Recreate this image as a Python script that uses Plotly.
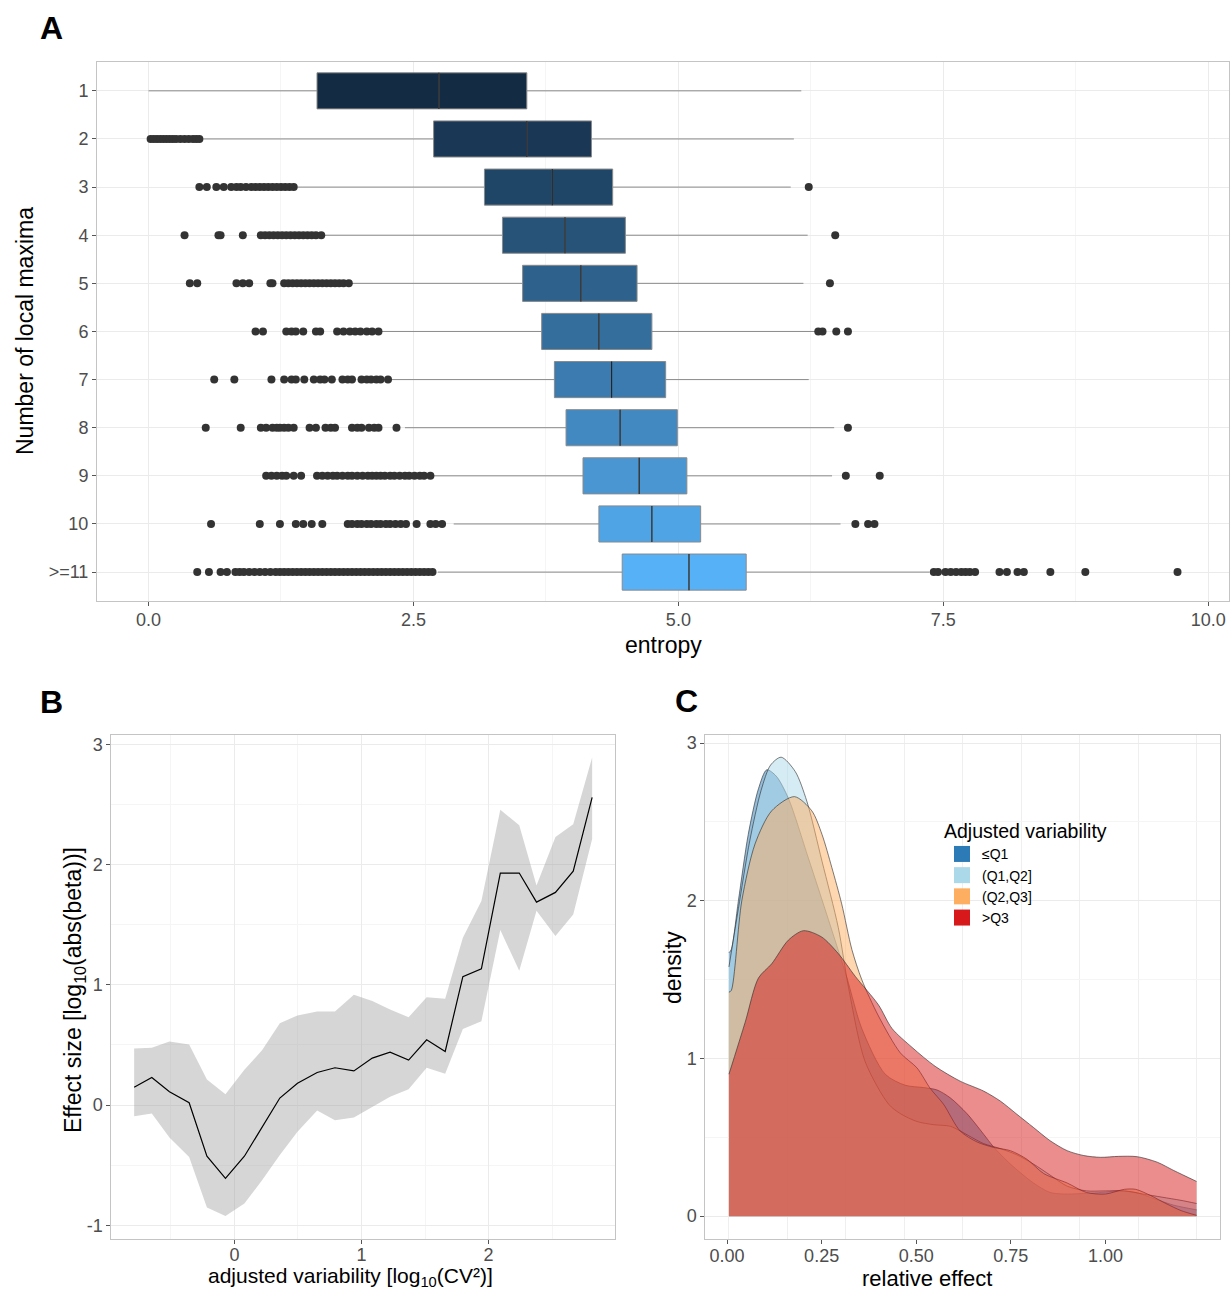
import plotly.graph_objects as go

# ---------------- Panel A: entropy by number of local maxima ----------------
maxima_labels = ["1", "2", "3", "4", "5", "6", "7", "8", "9", "10", ">=11"]
entropy_q1 = [1.59, 2.69, 3.17, 3.34, 3.53, 3.71, 3.83, 3.94, 4.10, 4.25, 4.47]
entropy_median = [2.74, 3.57, 3.81, 3.93, 4.08, 4.25, 4.37, 4.45, 4.63, 4.75, 5.10]
entropy_q3 = [3.57, 4.18, 4.38, 4.50, 4.61, 4.75, 4.88, 4.99, 5.08, 5.21, 5.64]
entropy_lo = [0.00, 0.50, 1.40, 1.66, 1.92, 2.20, 2.28, 2.42, 2.69, 2.88, 2.73]
entropy_hi = [6.16, 6.09, 6.06, 6.22, 6.18, 6.30, 6.23, 6.47, 6.45, 6.53, 7.37]

entropy_outliers = [
    [],
    [0.02, 0.05, 0.08, 0.11, 0.14, 0.17, 0.20, 0.23, 0.26, 0.30, 0.34, 0.38,
     0.42, 0.45, 0.48],
    [0.48, 0.55, 0.64, 0.71, 0.78, 0.83, 0.87, 0.92, 0.97, 1.01, 1.05, 1.09,
     1.13, 1.17, 1.21, 1.25, 1.29, 1.33, 1.37, 6.23],
    [0.34, 0.66, 0.68, 0.89, 1.06, 1.10, 1.14, 1.18, 1.22, 1.26, 1.30, 1.34,
     1.38, 1.42, 1.46, 1.50, 1.54, 1.58, 1.63, 6.48],
    [0.39, 0.46, 0.83, 0.89, 0.95, 1.15, 1.17, 1.28, 1.32, 1.36, 1.40, 1.44,
     1.48, 1.52, 1.56, 1.60, 1.64, 1.68, 1.72, 1.76, 1.80, 1.84, 1.89, 6.43],
    [1.01, 1.08, 1.30, 1.35, 1.39, 1.46, 1.58, 1.62, 1.78, 1.84, 1.90, 1.95,
     2.00, 2.06, 2.11, 2.17, 6.32, 6.36, 6.49, 6.60],
    [0.62, 0.81, 1.16, 1.28, 1.35, 1.39, 1.47, 1.56, 1.62, 1.66, 1.73, 1.83,
     1.88, 1.92, 2.01, 2.06, 2.10, 2.15, 2.19, 2.26],
    [0.54, 0.87, 1.06, 1.11, 1.17, 1.21, 1.24, 1.28, 1.32, 1.37, 1.52, 1.58,
     1.67, 1.72, 1.76, 1.92, 1.97, 2.01, 2.08, 2.13, 2.17, 2.34, 6.60],
    [1.11, 1.16, 1.21, 1.26, 1.30, 1.37, 1.44, 1.59, 1.64, 1.69, 1.74, 1.78,
     1.83, 1.88, 1.92, 1.97, 2.02, 2.07, 2.11, 2.15, 2.19, 2.23, 2.28, 2.32,
     2.37, 2.42, 2.46, 2.51, 2.56, 2.60, 2.66, 6.58, 6.90],
    [0.59, 1.05, 1.24, 1.39, 1.46, 1.54, 1.64, 1.88, 1.92, 1.97, 2.01, 2.06,
     2.10, 2.15, 2.19, 2.24, 2.28, 2.33, 2.38, 2.43, 2.53, 2.66, 2.71, 2.77,
     6.67, 6.79, 6.85],
    [0.46, 0.57, 0.68, 0.74, 0.82, 0.86, 0.90, 0.95, 1.00, 1.05, 1.10, 1.15,
     1.20, 1.24, 1.28, 1.32, 1.36, 1.40, 1.44, 1.48, 1.52, 1.56, 1.60, 1.64,
     1.68, 1.72, 1.76, 1.80, 1.84, 1.88, 1.92, 1.96, 2.00, 2.04, 2.08, 2.12,
     2.16, 2.20, 2.24, 2.28, 2.32, 2.36, 2.40, 2.44, 2.48, 2.52, 2.56, 2.60,
     2.64, 2.68, 7.41, 7.45, 7.52, 7.57, 7.62, 7.67, 7.71, 7.75, 7.80, 8.03,
     8.10, 8.20, 8.26, 8.51, 8.84, 9.71],
]

box_fills = ["#132B43", "#1A3855", "#204667", "#275379", "#2E618B", "#346E9D",
             "#3B7BAF", "#4289C1", "#4996D3", "#4FA4E5", "#56B1F7"]

# ---------------- Panel B: effect size vs adjusted variability ----------------
variability_bin = [-0.790, -0.651, -0.512, -0.357, -0.217, -0.071, 0.078, 0.217,
                   0.357, 0.496, 0.651, 0.791, 0.940, 1.085, 1.225, 1.371,
                   1.513, 1.659, 1.798, 1.944, 2.093, 2.242, 2.378, 2.527,
                   2.667, 2.816]
effect_mean = [0.148, 0.229, 0.110, 0.019, -0.426, -0.610, -0.426, -0.190,
               0.058, 0.181, 0.271, 0.310, 0.284, 0.390, 0.439, 0.374,
               0.542, 0.445, 1.068, 1.132, 1.929, 1.929, 1.687, 1.768,
               1.945, 2.558]
effect_upper = [0.471, 0.477, 0.529, 0.503, 0.213, 0.090, 0.294, 0.455,
                0.681, 0.745, 0.777, 0.777, 0.916, 0.865, 0.794, 0.729,
                0.897, 0.884, 1.390, 1.697, 2.455, 2.326, 1.826, 2.229,
                2.335, 2.890]
effect_lower = [-0.094, -0.071, -0.271, -0.432, -0.852, -0.923, -0.819, -0.626,
                -0.416, -0.223, -0.045, -0.126, -0.103, -0.013, 0.068, 0.132,
                0.310, 0.261, 0.632, 0.697, 1.455, 1.116, 1.616, 1.406,
                1.584, 2.213]

# ---------------- Panel C: densities of relative effect ----------------
group_names = ["\u2264Q1", "(Q1,Q2]", "(Q2,Q3]", ">Q3"]
group_colors = ["#2C7BB6", "#ABD9E9", "#FDAE61", "#D7191C"]
group_fills = ["rgba(44,123,182,0.5)", "rgba(171,217,233,0.5)",
               "rgba(253,174,97,0.5)", "rgba(215,25,28,0.5)"]

q1_x = [0.005, 0.011, 0.030, 0.056, 0.083, 0.105, 0.130, 0.162, 0.215, 0.268,
        0.317, 0.356, 0.418, 0.471, 0.520, 0.555, 0.590, 0.634, 0.678, 0.704,
        0.749, 0.810, 0.854, 0.899, 0.950, 0.990, 1.035, 1.080, 1.130, 1.180,
        1.241]
q1_y = [1.67, 1.69, 2.00, 2.42, 2.71, 2.83, 2.79, 2.65, 2.27, 1.88,
        1.51, 1.19, 0.90, 0.83, 0.815, 0.80, 0.75, 0.65, 0.52, 0.44,
        0.33, 0.21, 0.15, 0.14, 0.145, 0.15, 0.16, 0.15, 0.11, 0.07,
        0.04]

q2_x = [0.005, 0.030, 0.060, 0.090, 0.115, 0.143, 0.180, 0.211, 0.251, 0.294,
        0.321, 0.365, 0.427, 0.458, 0.502, 0.546, 0.590, 0.616, 0.678, 0.720,
        0.765, 0.810, 0.854, 0.899, 0.950, 1.000, 1.050, 1.100, 1.150, 1.200,
        1.241]
q2_y = [1.58, 1.95, 2.38, 2.70, 2.86, 2.91, 2.82, 2.63, 2.25, 1.83,
        1.45, 0.98, 0.71, 0.65, 0.60, 0.58, 0.57, 0.54, 0.46, 0.43,
        0.39, 0.33, 0.26, 0.19, 0.16, 0.16, 0.16, 0.14, 0.12, 0.10,
        0.08]

q3_x = [0.005, 0.011, 0.039, 0.074, 0.118, 0.178, 0.224, 0.251, 0.277, 0.303,
        0.330, 0.356, 0.400, 0.458, 0.502, 0.537, 0.572, 0.616, 0.661, 0.704,
        0.749, 0.793, 0.837, 0.899, 0.950, 1.000, 1.050, 1.080, 1.120, 1.160,
        1.200, 1.241]
q3_y = [1.42, 1.43, 2.00, 2.36, 2.57, 2.66, 2.57, 2.42, 2.21, 1.98,
        1.69, 1.50, 1.27, 1.035, 0.94, 0.81, 0.71, 0.54, 0.47, 0.436,
        0.415, 0.36, 0.27, 0.21, 0.15, 0.14, 0.17, 0.17, 0.13, 0.08,
        0.035, 0.005]

q4_x = [0.005, 0.048, 0.083, 0.118, 0.162, 0.202, 0.250, 0.294, 0.339, 0.400,
        0.436, 0.489, 0.550, 0.616, 0.678, 0.722, 0.766, 0.810, 0.854, 0.899,
        0.943, 0.987, 1.035, 1.084, 1.137, 1.181, 1.241]
q4_y = [0.90, 1.23, 1.51, 1.60, 1.75, 1.81, 1.77, 1.665, 1.52, 1.34,
        1.19, 1.07, 0.95, 0.856, 0.793, 0.73, 0.646, 0.562, 0.478, 0.415,
        0.384, 0.373, 0.379, 0.377, 0.342, 0.289, 0.22]

density_x = [q1_x, q2_x, q3_x, q4_x]
density_y = [q1_y, q2_y, q3_y, q4_y]

# ---------------- Figure ----------------
FONT = "Liberation Sans, Arial, Helvetica, sans-serif"
TICK_FONT = dict(family=FONT, size=18, color="#4d4d4d")
GRID = "#ebebeb"
MINOR_GRID = "#f5f5f5"

fig = go.Figure()

# Panel A: boxes, medians, outliers
for i, lab in enumerate(maxima_labels):
    fig.add_trace(go.Box(
        y=[i], q1=[entropy_q1[i]], median=[entropy_median[i]], q3=[entropy_q3[i]],
        lowerfence=[entropy_lo[i]], upperfence=[entropy_hi[i]],
        orientation="h", width=0.75, whiskerwidth=0, boxpoints=False,
        fillcolor=box_fills[i], line=dict(color="#8a8a8a", width=1),
        showlegend=False, hoverinfo="skip", xaxis="x", yaxis="y",
    ))

med_x, med_y = [], []
for i, m in enumerate(entropy_median):
    med_x += [m, m, None]
    med_y += [i - 0.375, i + 0.375, None]
fig.add_trace(go.Scatter(x=med_x, y=med_y, mode="lines",
                         line=dict(color="#1e1e1e", width=1.1),
                         showlegend=False, hoverinfo="skip", xaxis="x", yaxis="y"))

out_x, out_y = [], []
for i, pts in enumerate(entropy_outliers):
    out_x += pts
    out_y += [i] * len(pts)
fig.add_trace(go.Scatter(x=out_x, y=out_y, mode="markers",
                         marker=dict(color="#333333", size=8),
                         showlegend=False, hoverinfo="skip", xaxis="x", yaxis="y"))

# Panel B: ribbon + mean line
fig.add_trace(go.Scatter(x=variability_bin, y=effect_lower, mode="lines",
                         line=dict(width=0), showlegend=False, hoverinfo="skip",
                         xaxis="x2", yaxis="y2"))
fig.add_trace(go.Scatter(x=variability_bin, y=effect_upper, mode="lines",
                         line=dict(width=0), fill="tonexty",
                         fillcolor="rgba(153,153,153,0.4)",
                         showlegend=False, hoverinfo="skip", xaxis="x2", yaxis="y2"))
fig.add_trace(go.Scatter(x=variability_bin, y=effect_mean, mode="lines",
                         line=dict(color="black", width=1.2),
                         showlegend=False, hoverinfo="skip", xaxis="x2", yaxis="y2"))

# Panel C: overlapping densities
for k in range(4):
    fig.add_trace(go.Scatter(
        x=density_x[k], y=density_y[k], mode="lines", fill="tozeroy",
        fillcolor=group_fills[k],
        line=dict(color="rgba(40,40,40,0.75)", width=0.8, shape="spline", smoothing=0.8),
        showlegend=False, hoverinfo="skip", xaxis="x3", yaxis="y3",
    ))
for k in range(4):
    fig.add_trace(go.Scatter(
        x=[None], y=[None], mode="markers", name=group_names[k],
        marker=dict(symbol="square", size=16, color=group_colors[k]),
        xaxis="x3", yaxis="y3",
    ))

axis_base = dict(showline=True, mirror=True, linecolor="#c4c4c4", linewidth=1,
                 ticks="outside", ticklen=4, tickcolor="#555555", tickwidth=1,
                 tickfont=TICK_FONT, gridcolor=GRID, gridwidth=1, zeroline=False,
                 showgrid=True)

BOTTOM_ROW = [1 - 1239 / 1291, 1 - 734.5 / 1291]

fig.update_layout(
    width=1231, height=1291,
    margin=dict(l=0, r=0, t=0, b=0),
    paper_bgcolor="white", plot_bgcolor="white",
    font=dict(family=FONT, color="black"),
    xaxis=dict(axis_base, domain=[0.0788, 0.9984], range=[-0.486, 10.196],
               tickmode="array", tickvals=[0, 2.5, 5, 7.5, 10],
               ticktext=["0.0", "2.5", "5.0", "7.5", "10.0"], ticklabelstandoff=-2,
               minor=dict(tickmode="linear", tick0=0, dtick=1.25, showgrid=True,
                          gridcolor=MINOR_GRID)),
    yaxis=dict(axis_base, domain=[0.5345, 0.9520], range=[10.6, -0.6],
               tickmode="array", tickvals=list(range(len(maxima_labels))),
               ticktext=maxima_labels),
    xaxis2=dict(axis_base, domain=[0.0904, 0.4996], range=[-0.97, 2.996],
                tickmode="array", tickvals=[0, 1, 2], ticktext=["0", "1", "2"],
                ticklabelstandoff=-5,
                minor=dict(tickmode="linear", tick0=0, dtick=0.5, showgrid=True,
                           gridcolor=MINOR_GRID), anchor="y2"),
    yaxis2=dict(axis_base, domain=BOTTOM_ROW, range=[-1.114, 3.081],
                tickmode="array", tickvals=[-1, 0, 1, 2, 3],
                ticktext=["-1", "0", "1", "2", "3"],
                minor=dict(tickmode="linear", tick0=0, dtick=0.5, showgrid=True,
                           gridcolor=MINOR_GRID), anchor="x2"),
    xaxis3=dict(axis_base, domain=[0.5731, 0.9911], range=[-0.057, 1.303],
                tickmode="array", tickvals=[0, 0.25, 0.5, 0.75, 1.0],
                ticktext=["0.00", "0.25", "0.50", "0.75", "1.00"], showgrid=False,
                ticklabelstandoff=-4,
                minor=dict(tickmode="linear", tick0=0.005, dtick=0.1545, showgrid=True,
                           gridcolor="#efefef"), anchor="y3"),
    yaxis3=dict(axis_base, domain=BOTTOM_ROW, range=[-0.145, 3.054],
                tickmode="array", tickvals=[0, 1, 2, 3], ticktext=["0", "1", "2", "3"],
                minor=dict(tickmode="linear", tick0=0, dtick=0.5, showgrid=True,
                           gridcolor=MINOR_GRID), anchor="x3"),
    legend=dict(
        x=942 / 1231, y=1 - 813 / 1291, xanchor="left", yanchor="top",
        bgcolor="rgba(0,0,0,0)", borderwidth=0, traceorder="normal",
        font=dict(family=FONT, size=14, color="black"),
        title=dict(text="Adjusted variability", font=dict(family=FONT, size=19.5)),
        itemsizing="trace", tracegroupgap=0,
    ),
)


def px_to_paper(px, py):
    return px / 1231, 1 - py / 1291


def add_text(text, px, py, size, angle=0, bold=False):
    xp, yp = px_to_paper(px, py)
    fig.add_annotation(
        text=f"<b>{text}</b>" if bold else text,
        x=xp, y=yp, xref="paper", yref="paper", showarrow=False,
        xanchor="center", yanchor="middle", textangle=angle,
        font=dict(family=FONT, size=size, color="black"),
    )


# Panel letters
add_text("A", 51, 28, 32, bold=True)
add_text("B", 51, 702, 32, bold=True)
add_text("C", 686, 701, 32, bold=True)

# Axis titles
add_text("entropy", 663, 645, 23)
add_text("Number of local maxima", 25, 331, 23, angle=-90)
add_text("adjusted variability [log<sub>10</sub>(CV\u00b2)]", 351, 1277, 21)
add_text("Effect size [log<sub>10</sub>(abs(beta))]", 74, 990, 23, angle=-90)
add_text("relative effect", 927, 1278, 22)
add_text("density", 673, 968, 23, angle=-90)

fig.write_html("out.html")
